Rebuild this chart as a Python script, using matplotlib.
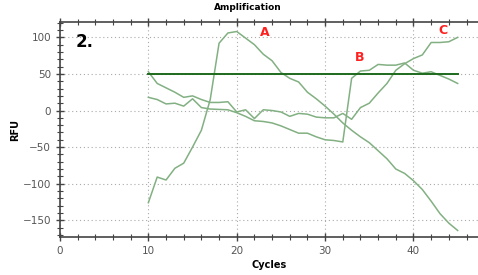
import numpy as np
import matplotlib

matplotlib.use("Agg")
import matplotlib.pyplot as plt
from matplotlib.ticker import MultipleLocator

# data
cycles = list(range(10, 46))
curve_a = [-126, -91, -95, -79, -72, -50, -27, 15, 92, 106,
           108, 99, 90, 77, 68, 52, 44, 39, 25, 16,
           6, -5, -17, -27, -36, -44, -55, -66, -80, -86,
           -96, -108, -124, -141, -154, -164]
curve_b = [18, 15, 9, 10, 6, 16, 4, 2, 1.5, 1,
           -3, -8, -14, -15, -17, -21, -26, -31, -31, -36,
           -40, -41, -43, 44, 54, 55, 63, 62, 62, 65,
           55, 51, 53, 48, 43, 37]
curve_c = [53, 37, 31, 25, 18, 20, 15, 11, 11, 12,
           -2, 1, -11, 1, 0, -2, -8, -4, -5, -9,
           -10, -10, -4, -12, 4, 10, 24, 37, 55, 64,
           71, 76, 93, 93, 94, 100]
threshold = 50
labels = [("A", 23.2, 106), ("B", 33.9, 72), ("C", 43.3, 109)]

curve_color = '#82b082'
fig = plt.figure(figsize=(4.78, 2.75), dpi=100)
ax = fig.add_axes([0.1255, 0.138, 0.8745, 0.782])

for ys in (curve_a, curve_b, curve_c):
    ax.plot(cycles, ys, color=curve_color, linewidth=1.1)
ax.plot([cycles[0], cycles[-1]], [threshold, threshold], color='#1e6a1e', linewidth=1.4)

for txt, x, y in labels:
    ax.text(x, y, txt, color='#ff2020', fontsize=9, fontweight='bold',
            ha='center', va='center')
ax.text(2.8, 94, "2.", color='black', fontsize=12, fontweight='bold',
        ha='center', va='center')

ax.set_xlim(0, 47.3)
ax.set_ylim(-173, 121)
ax.xaxis.set_major_locator(MultipleLocator(10))
ax.xaxis.set_minor_locator(MultipleLocator(2))
ax.yaxis.set_major_locator(MultipleLocator(50))
ax.yaxis.set_minor_locator(MultipleLocator(10))
ax.grid(True, which='major', linestyle=(0, (1, 2.5)), color='#aaaaaa', linewidth=0.8)
ax.tick_params(which='major', direction='inout', length=6, width=1, color='#444444',
               labelsize=7.5, labelcolor='#555555', top=True)
ax.tick_params(which='minor', direction='inout', length=4, width=0.8, color='#444444', top=True)
for s in ax.spines.values():
    s.set_color('#444444')
    s.set_linewidth(1.2)
ax.spines['right'].set_visible(False)

ax.set_xlabel('Cycles', fontsize=7, fontweight='bold')
ax.xaxis.set_label_coords(0.5, -0.105)
ax.set_ylabel('RFU', fontsize=7, fontweight='bold')
ax.yaxis.set_label_coords(-0.095, 0.5)
fig.text(248 / 478, 1 - 8 / 275, 'Amplification', fontsize=6.5, fontweight='bold',
         ha='center', va='center')

fig.savefig("out.png", dpi=100)
